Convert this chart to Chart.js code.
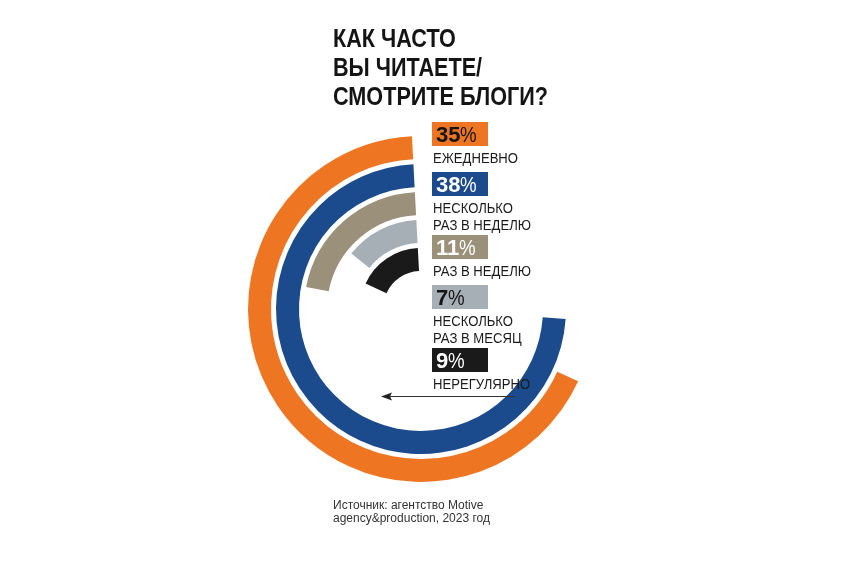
<!DOCTYPE html>
<html><head><meta charset="utf-8">
<script src="https://cdn.jsdelivr.net/npm/chart.js@4.4.1/dist/chart.umd.min.js"></script>
<style>
html,body{margin:0;padding:0;background:#fff;}
#wrap{position:relative;width:868px;height:576px;overflow:hidden;background:#fff;}
canvas{position:absolute;left:0;top:0;}
.t{position:absolute;white-space:pre;line-height:1;transform-origin:0 0;}
.sans{font-family:"Liberation Sans",Arial,sans-serif;}
.box{position:absolute;}
</style></head><body>
<div id="wrap"><canvas id="c" width="868" height="576"></canvas></div>
<script>
// ---- data ----
const titleLines = ['КАК ЧАСТО', 'ВЫ ЧИТАЕТЕ/', 'СМОТРИТЕ БЛОГИ?'];
const categories = ['ЕЖЕДНЕВНО', 'НЕСКОЛЬКО\nРАЗ В НЕДЕЛЮ', 'РАЗ В НЕДЕЛЮ', 'НЕСКОЛЬКО\nРАЗ В МЕСЯЦ', 'НЕРЕГУЛЯРНО'];
const values = [35, 38, 11, 7, 9];
const colors = ['#EE7623', '#1B4B8C', '#9B9079', '#A7AFB6', '#1A1A1A'];
const numberColors = ['#141414', '#ffffff', '#ffffff', '#141414', '#ffffff'];
const fullCircleValue = 52; // percentage that corresponds to a complete ring
const sourceLines = ['Источник: агентство Motive', 'agency&production, 2023 год'];

// ---- layout ----
const wrap = document.getElementById('wrap');
function place(text, x, baseline, fs, weight, color, sx) {
  const d = document.createElement('div');
  d.className = 't sans';
  d.style.fontSize = fs + 'px';
  d.style.fontWeight = weight;
  d.style.color = color;
  d.style.left = x + 'px';
  d.style.top = (baseline - 0.8465 * fs) + 'px';
  d.textContent = text;
  if (sx) d.style.transform = 'scaleX(' + sx + ')';
  wrap.appendChild(d);
  return d;
}
function measure(text, fs, weight) {
  const c = document.createElement('canvas').getContext('2d');
  c.font = weight + ' ' + fs + 'px "Liberation Sans"';
  return c.measureText(text).width;
}
// title (condensed)
const titleFs = 25;
const titleScale = 215 / measure(titleLines[2], titleFs, 'bold');
const titleBase = [47, 76, 105];
titleLines.forEach((s, i) => place(s, 333, titleBase[i], titleFs, 'bold', '#141414', titleScale));

// legend
const boxTops = [122, 172, 235, 285, 348];
const legendX = 432;
const labelFs = 14;
const labelScale = 98 / measure('РАЗ В НЕДЕЛЮ', labelFs, 'normal');
values.forEach((v, i) => {
  const b = document.createElement('div');
  b.className = 'box';
  b.style.left = legendX + 'px';
  b.style.top = boxTops[i] + 'px';
  b.style.width = '56px';
  b.style.height = '24px';
  b.style.background = colors[i];
  wrap.appendChild(b);
  const n = place('', legendX + 4, boxTops[i] + 21, 22, 'bold', numberColors[i]);
  n.innerHTML = v + '<span style="font-weight:normal;display:inline-block;transform:scaleX(0.85);transform-origin:0 0">%</span>';
  const lines = categories[i].split('\n');
  lines.forEach((s, k) => place(s, legendX + 1, boxTops[i] + 41 + k * 16.5, labelFs, 'normal', '#1a1a1a', labelScale));
});

// source
sourceLines.forEach((s, i) => place(s, 333, 509 + i * 13.5, 12, 'normal', '#333'));

// arrow
const svgNS = 'http://www.w3.org/2000/svg';
const svg = document.createElementNS(svgNS, 'svg');
svg.setAttribute('width', '868'); svg.setAttribute('height', '576');
svg.style.position = 'absolute'; svg.style.left = '0'; svg.style.top = '0';
svg.innerHTML = '<line x1="388" y1="396.5" x2="515" y2="396.5" stroke="#333" stroke-width="1.2"/>' +
  '<polygon points="381,396.5 392,392.5 390,396.5 392,400.5" fill="#222"/>';
wrap.appendChild(svg);

// ---- chart ----
const datasets = [];
values.forEach((v, i) => {
  if (i > 0) datasets.push({ data: [1], backgroundColor: ['rgba(0,0,0,0)'], weight: 5, borderWidth: 0 });
  datasets.push({
    label: categories[i],
    data: [fullCircleValue - v, v],
    backgroundColor: ['rgba(0,0,0,0)', colors[i]],
    weight: 23,
    borderWidth: 0
  });
});
new Chart(document.getElementById('c'), {
  type: 'doughnut',
  data: { labels: ['', ''], datasets },
  options: {
    responsive: false,
    animation: false,
    events: [],
    rotation: -3,
    circumference: 360,
    cutout: (38 / 173 * 100) + '%',
    layout: { padding: { left: 248, right: 274, top: 136, bottom: 94 } },
    plugins: { legend: { display: false }, tooltip: { enabled: false } }
  }
});
</script>
</body></html>
